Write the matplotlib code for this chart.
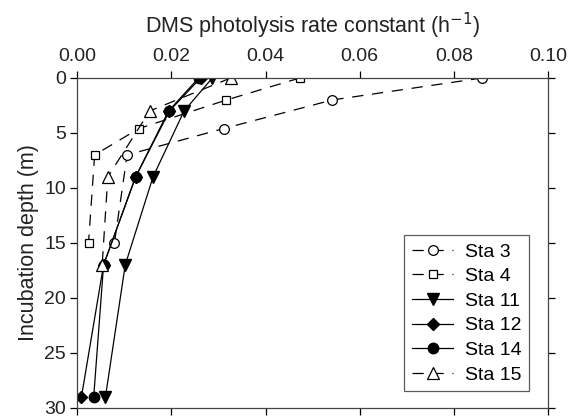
import matplotlib
matplotlib.use("Agg")
import matplotlib.pyplot as plt

plt.rcParams['font.family'] = ['Liberation Sans', 'DejaVu Sans']

# Data
sta3_rate = [0.0860, 0.0542, 0.0311, 0.0106, 0.0079]
sta3_depth = [0, 2, 4.6, 7, 15]

sta4_rate = [0.0473, 0.0317, 0.0131, 0.0037, 0.0024]
sta4_depth = [0, 2, 4.6, 7, 15]

sta11_rate = [0.0287, 0.0227, 0.0161, 0.0102, 0.0060]
sta11_depth = [0, 3, 9, 17, 29]

sta12_rate = [0.0262, 0.0196, 0.0124, 0.0056, 0.0009]
sta12_depth = [0, 3, 9, 17, 29]

sta14_rate = [0.0258, 0.0194, 0.0124, 0.0056, 0.0035]
sta14_depth = [0, 3, 9, 17, 29]

sta15_rate = [0.0326, 0.0154, 0.0065, 0.0053]
sta15_depth = [0, 3, 9, 17]

xticks = [0.00, 0.02, 0.04, 0.06, 0.08, 0.10]
xticklabels = ["0.00", "0.02", "0.04", "0.06", "0.08", "0.10"]
yticks = [0, 5, 10, 15, 20, 25, 30]

fig = plt.figure(figsize=(5.72, 4.17), dpi=100)
ax = fig.add_axes([0.135, 0.022, 0.823, 0.791])

lw = 0.9
ms = 7
dash = (0, (9, 7))

ax.plot(sta3_rate, sta3_depth, linestyle=dash, color='black', lw=lw, marker='o',
        ms=ms, mfc='white', mec='black', mew=0.9, label='Sta 3')
ax.plot(sta4_rate, sta4_depth, linestyle=dash, color='black', lw=lw, marker='s',
        ms=ms - 1, mfc='white', mec='black', mew=0.9, label='Sta 4')
ax.plot(sta11_rate, sta11_depth, linestyle='-', color='black', lw=lw, marker='v',
        ms=ms + 1, mfc='black', mec='black', label='Sta 11')
ax.plot(sta12_rate, sta12_depth, linestyle='-', color='black', lw=lw, marker='D',
        ms=ms - 1, mfc='black', mec='black', label='Sta 12')
ax.plot(sta14_rate, sta14_depth, linestyle='-', color='black', lw=lw, marker='o',
        ms=ms + 0.5, mfc='black', mec='black', label='Sta 14')
ax.plot(sta15_rate, sta15_depth, linestyle=dash, color='black', lw=lw, marker='^',
        ms=ms + 1, mfc='white', mec='black', mew=0.9, label='Sta 15')

ax.set_xlim(0, 0.10)
ax.set_ylim(30, 0)
ax.set_xticks(xticks)
ax.set_xticklabels(xticklabels)
ax.set_yticks(yticks)
ax.xaxis.set_label_position('top')
ax.set_xlabel('DMS photolysis rate constant (h$^{-1}$)', fontsize=15.5, labelpad=11, color='#222222')
ax.set_ylabel('Incubation depth (m)', fontsize=15.5, labelpad=4, color='#222222')
ax.tick_params(axis='both', which='both', direction='out', length=5, width=0.9,
               labelsize=14, labelcolor='#222222',
               top=True, bottom=True, left=True, right=True,
               labeltop=True, labelbottom=False, labelleft=True, labelright=False)
ax.tick_params(axis='x', pad=4)
ax.tick_params(axis='y', pad=3)
for s in ax.spines.values():
    s.set_linewidth(0.9)
    s.set_color('#444444')

leg = ax.legend(loc='lower right', bbox_to_anchor=(0.96, 0.05), fontsize=14,
                frameon=True, fancybox=False, edgecolor='#333333',
                handlelength=2.1, handletextpad=0.6, labelspacing=0.36,
                borderpad=0.4, borderaxespad=0)
leg.get_frame().set_linewidth(0.9)

fig.savefig('out.png', dpi=100)
